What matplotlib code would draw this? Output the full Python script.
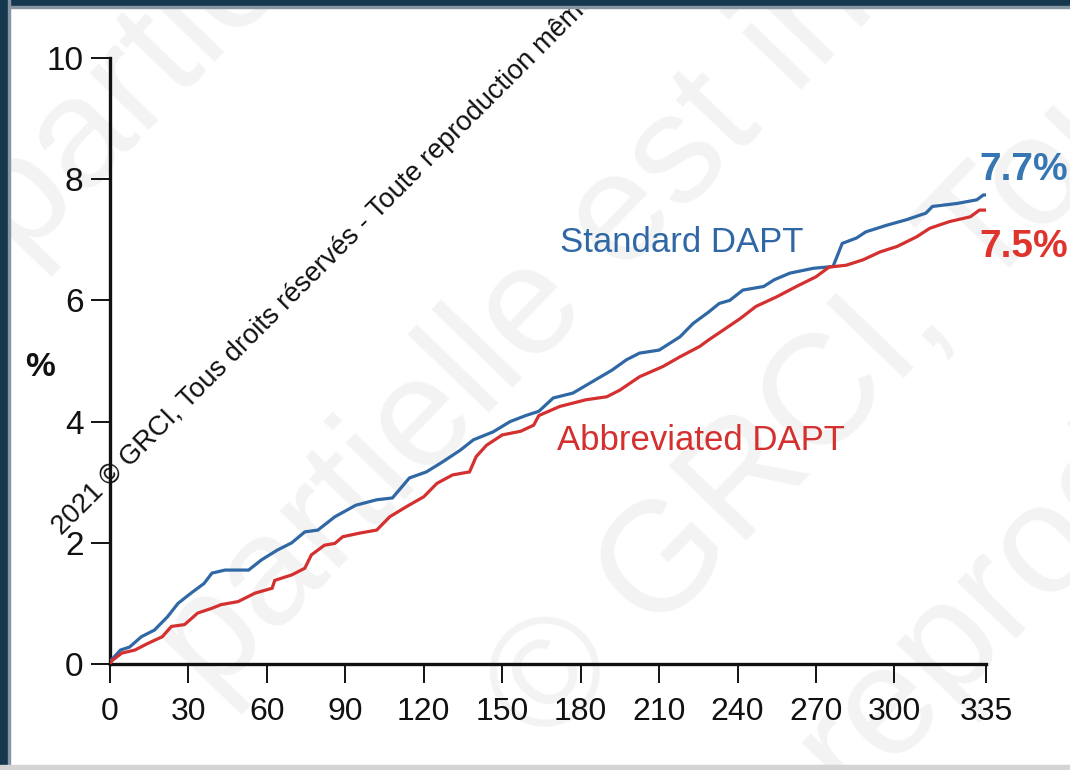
import matplotlib
matplotlib.use("Agg")
import matplotlib.pyplot as plt
from matplotlib.patches import Rectangle

# ---------------- data ----------------
std_days = [0, 0.6, 4, 7.5, 12, 17, 22, 26, 31, 36, 39, 44, 53, 58, 64, 69.5, 74.5, 79.5,
            86, 94, 102, 108, 114.5, 121, 127, 134, 139, 146.5, 153, 159, 164, 169.5,
            177, 184.5, 192, 197.5, 202.5, 210, 218, 223, 229, 233, 237, 242, 250, 254,
            260, 269, 276.5, 278, 280, 285.5, 289, 297, 304.5, 312, 314.5, 324, 331.5,
            334, 335]
std_vals = [0, 0.07, 0.23, 0.28, 0.45, 0.56, 0.78, 1.0, 1.17, 1.33, 1.5, 1.55, 1.55, 1.72,
            1.88, 2.0, 2.18, 2.21, 2.43, 2.62, 2.71, 2.74, 3.07, 3.17, 3.33, 3.53, 3.7,
            3.83, 4.0, 4.1, 4.17, 4.39, 4.47, 4.66, 4.85, 5.02, 5.13, 5.18, 5.4, 5.62,
            5.81, 5.95, 6.0, 6.17, 6.23, 6.34, 6.45, 6.53, 6.56, 6.72, 6.94, 7.03, 7.13,
            7.24, 7.33, 7.44, 7.55, 7.6, 7.66, 7.74, 7.74]

abb_days = [0, 0.6, 4.5, 9.5, 14.5, 20, 23.5, 28.5, 33.5, 39, 42.5, 49, 55.5, 62, 63,
            69.5, 74.5, 77, 82, 86, 89, 95.5, 102, 107, 113.5, 120, 125, 131, 137.5, 140,
            144, 150, 157, 162, 164, 172, 182, 190, 195, 202.5, 211.5, 218, 225.5, 229,
            234.5, 241, 247, 255, 262.5, 270, 275, 281.5, 288, 294.5, 301, 308.5, 313.5,
            321, 329, 332.5, 335]
abb_vals = [0, 0.05, 0.18, 0.23, 0.34, 0.45, 0.62, 0.65, 0.84, 0.92, 0.98, 1.03, 1.17,
            1.25, 1.38, 1.47, 1.58, 1.8, 1.96, 1.99, 2.1, 2.16, 2.21, 2.43, 2.6, 2.76,
            2.98, 3.12, 3.17, 3.42, 3.61, 3.78, 3.84, 3.94, 4.1, 4.25, 4.36, 4.41, 4.52,
            4.74, 4.91, 5.07, 5.24, 5.35, 5.51, 5.7, 5.9, 6.06, 6.23, 6.39, 6.55, 6.58,
            6.67, 6.8, 6.89, 7.05, 7.19, 7.3, 7.38, 7.49, 7.49]

x_ticks = [0, 30, 60, 90, 120, 150, 180, 210, 240, 270, 300, 335]
y_ticks = [0, 2, 4, 6, 8, 10]
std_label = "Standard DAPT"
abb_label = "Abbreviated DAPT"
std_final = "7.7%"
abb_final = "7.5%"

# ---------------- style ----------------
BLUE = "#2f68a5"
BLUE_T = "#3676b3"
RED = "#d3302f"
RED_T = "#df342e"
FONT = "Liberation Sans"
plt.rcParams["font.family"] = [FONT, "DejaVu Sans"]

W, H = 1070, 770
fig = plt.figure(figsize=(W / 100, H / 100), dpi=100)
fig.patch.set_facecolor("white")

def fx(px):
    return px / W

def fy(py):
    return 1 - py / H

# faint background watermarks (behind everything)
wm_color = "#f3f3f3"
wm = [
    ("partielle est interdite", 22, 262),
    ("partielle est interdite", 212, 700),
    ("© GRCI, Tous droits", 545, 750),
    ("reproduction", 850, 800),
]
for s, x0, y0 in wm:
    fig.text(fx(x0), fy(y0), s, fontsize=112, color=wm_color, rotation=46,
             rotation_mode="anchor", ha="left", va="baseline", zorder=-5)

ax = fig.add_axes([fx(110), fy(664), fx(986) - fx(110), fy(58) - fy(664)])
ax.set_facecolor("none")
ax.set_zorder(2)

ax.plot(std_days, std_vals, color=BLUE, lw=2.3, zorder=3, solid_joinstyle="miter")
ax.plot(abb_days, abb_vals, color=RED, lw=2.3, zorder=3, solid_joinstyle="miter")

ax.set_xlim(0, 335)
ax.set_ylim(0, 10)
ax.set_xticks(x_ticks)
ax.set_xticklabels([str(t) for t in x_ticks])
ax.set_yticks(y_ticks)
ax.set_yticklabels([str(t) for t in y_ticks])
for side in ("top", "right"):
    ax.spines[side].set_visible(False)
for side in ("left", "bottom"):
    ax.spines[side].set_linewidth(2.4)
    ax.spines[side].set_color("#111111")
ax.tick_params(axis="both", direction="out", length=14, width=1.4, color="#111111",
               labelcolor="#111111")
ax.tick_params(axis="x", pad=10, labelsize=23)
ax.tick_params(axis="y", pad=5, labelsize=24)

fig.text(fx(40), fy(368), "%", fontsize=24, fontweight="bold", color="#111111",
         ha="center", va="center", zorder=3)

fig.text(fx(682), fy(243), std_label, fontsize=25, color=BLUE, ha="center", va="center",
         zorder=3)
fig.text(fx(701), fy(440), abb_label, fontsize=25, color=RED, ha="center", va="center",
         zorder=3)
fig.text(fx(1024), fy(170), std_final, fontsize=28, fontweight="bold", color=BLUE_T,
         ha="center", va="center", zorder=3)
fig.text(fx(1024), fy(247), abb_final, fontsize=28, fontweight="bold", color=RED_T,
         ha="center", va="center", zorder=3)

# black diagonal copyright text
fig.text(fx(62), fy(536),
         "2021 © GRCI, Tous droits réservés - Toute reproduction même partielle est interdite",
         fontsize=19.6, color="#111111", rotation=45, rotation_mode="anchor",
         ha="left", va="baseline", zorder=5)

# frame borders
fig.add_artist(Rectangle((0, fy(6)), 1, fy(0) - fy(6), transform=fig.transFigure,
                         color="#15384f", zorder=10))
fig.add_artist(Rectangle((0, fy(8)), 1, fy(6) - fy(8), transform=fig.transFigure,
                         color="#8796a3", zorder=10))
fig.add_artist(Rectangle((0, 0), fx(8), 1, transform=fig.transFigure,
                         color="#15384f", zorder=10))
fig.add_artist(Rectangle((fx(8), 0), fx(2), 1, transform=fig.transFigure,
                         color="#8796a3", zorder=10))
fig.add_artist(Rectangle((0, 0), 1, fy(765), transform=fig.transFigure,
                         color="#d4d4d4", zorder=10))

fig.savefig("out.png", dpi=100, facecolor="white")
